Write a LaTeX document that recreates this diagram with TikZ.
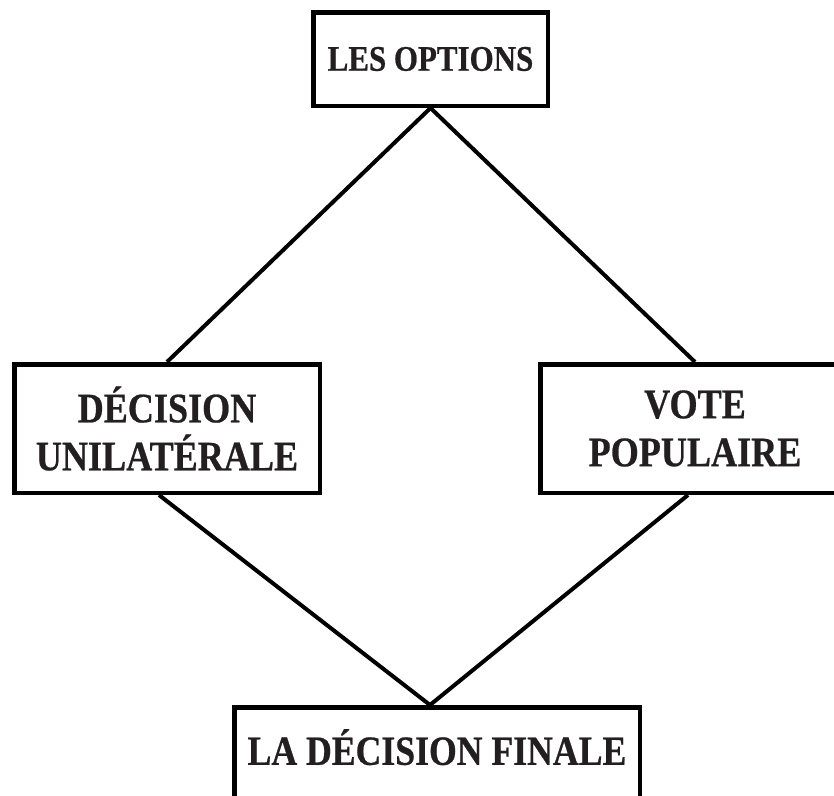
\documentclass[tikz,border=0pt]{standalone}
\usepackage{fontspec}
\setmainfont{Liberation Serif}[FakeStretch=0.86, BoldFeatures={FakeBold=0.6}]
\definecolor{ink}{HTML}{231F20}
\tikzset{
    box/.style={draw, line width=4.5pt, inner sep=0pt, align=center, text=ink, font=\bfseries},
}

\begin{document}
\begin{tikzpicture}[x=1pt, y=-1pt, line width=4pt]
    \useasboundingbox (0,0) rectangle (834,795);

    \node[box, minimum width=234.5pt, minimum height=93.5pt, font=\bfseries\fontsize{36}{42}\selectfont] (opt) at (430.5,59) {LES OPTIONS};
    \node[box, minimum width=305.5pt, minimum height=128.5pt, font=\bfseries\fontsize{42}{48}\selectfont] (uni) at (167,428.5) {DÉCISION\\UNILATÉRALE};
    \node[box, minimum width=309.5pt, minimum height=128.5pt, font=\bfseries\fontsize{42}{48}\selectfont] (vote) at (695,428.5) {VOTE\\POPULAIRE};
    \node[box, minimum width=405.5pt, minimum height=93.5pt, text depth=14pt, font=\bfseries\fontsize{41.5}{48}\selectfont] (fin) at (437,754) {LA DÉCISION FINALE};

    \path[draw]
    (opt.south) edge (uni.north)
    (opt.south) edge (vote.north)
    ([xshift=-8pt]uni.south) edge ([xshift=-7pt]fin.north)
    ([xshift=-7pt]vote.south) edge ([xshift=-7pt]fin.north);
\end{tikzpicture}
\end{document}
